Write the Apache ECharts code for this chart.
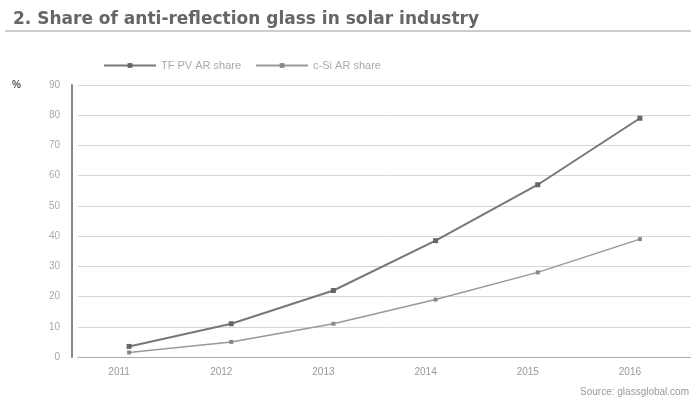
<!DOCTYPE html>
<html>
<head>
<meta charset="utf-8">
<script src="https://cdn.jsdelivr.net/npm/echarts@6/dist/echarts.min.js"></script>
<style>
html, body { margin: 0; padding: 0; background: #fff; }
#chart1 { width: 691px; height: 405px; }
</style>
</head>
<body>
<div id="chart1"></div>
<script>
// 数据
var years = ['2011', '2012', '2013', '2014', '2015', '2016'];
var tfShare = [3.5, 11, 22, 38.5, 57, 79];
var siShare = [1.5, 5, 11, 19, 28, 39];
var yTicks = [0, 10, 20, 30, 40, 50, 60, 70, 80, 90];

var chart1 = echarts.init(document.getElementById('chart1'));

var option = {
    backgroundColor: '#fff',
    animation: false,
    title: {
        text: '2. Share of anti-reflection glass in solar industry',
        left: 8,
        top: 6,
        textStyle: { fontSize: 17, fontWeight: 'bold', color: '#666', fontFamily: 'DejaVu Sans' }
    },
    legend: {
        top: 55,
        left: 98,
        itemGap: 14,
        itemWidth: 52,
        itemHeight: 6,
        textStyle: { fontSize: 11, color: '#aaa', padding: [0, 30, 0, 0] },
        data: ['TF PV AR share', 'c-Si AR share']
    },
    graphic: [
        {
            type: 'line',
            shape: { x1: 5, y1: 31, x2: 691, y2: 31 },
            style: { stroke: '#999', lineWidth: 1 }
        },
        {
            type: 'text',
            left: 12,
            top: 80,
            style: { text: '%', fontSize: 10, fontWeight: 'bold', fill: '#555' }
        },
        {
            type: 'text',
            right: 2,
            top: 387,
            style: { text: 'Source: glassglobal.com', fontSize: 10, fill: '#999' }
        }
    ],
    grid: { left: 78, top: 85, width: 625, height: 272 },
    xAxis: {
        type: 'category',
        data: years,
        boundaryGap: true,
        axisLine: { lineStyle: { color: '#aaa' } },
        axisTick: { show: false },
        axisLabel: { color: '#999', fontSize: 10, margin: 10, padding: [0, 20, 0, 0] }
    },
    yAxis: {
        type: 'value',
        offset: 6,
        min: yTicks[0],
        max: yTicks[yTicks.length - 1],
        interval: 10,
        axisLine: { show: true, lineStyle: { color: '#888', width: 2 } },
        axisTick: { show: false },
        axisLabel: { color: '#aaa', fontSize: 10, margin: 12 },
        splitLine: { lineStyle: { color: '#d6d6d6' } }
    },
    series: [
        {
            name: 'TF PV AR share',
            type: 'line',
            data: tfShare,
            symbol: 'rect',
            symbolSize: 5,
            lineStyle: { color: '#777', width: 2 },
            itemStyle: { color: '#666' }
        },
        {
            name: 'c-Si AR share',
            type: 'line',
            data: siShare,
            symbol: 'rect',
            symbolSize: 4,
            lineStyle: { color: '#999', width: 1.5 },
            itemStyle: { color: '#888' }
        }
    ]
};

chart1.setOption(option);
</script>
</body>
</html>
